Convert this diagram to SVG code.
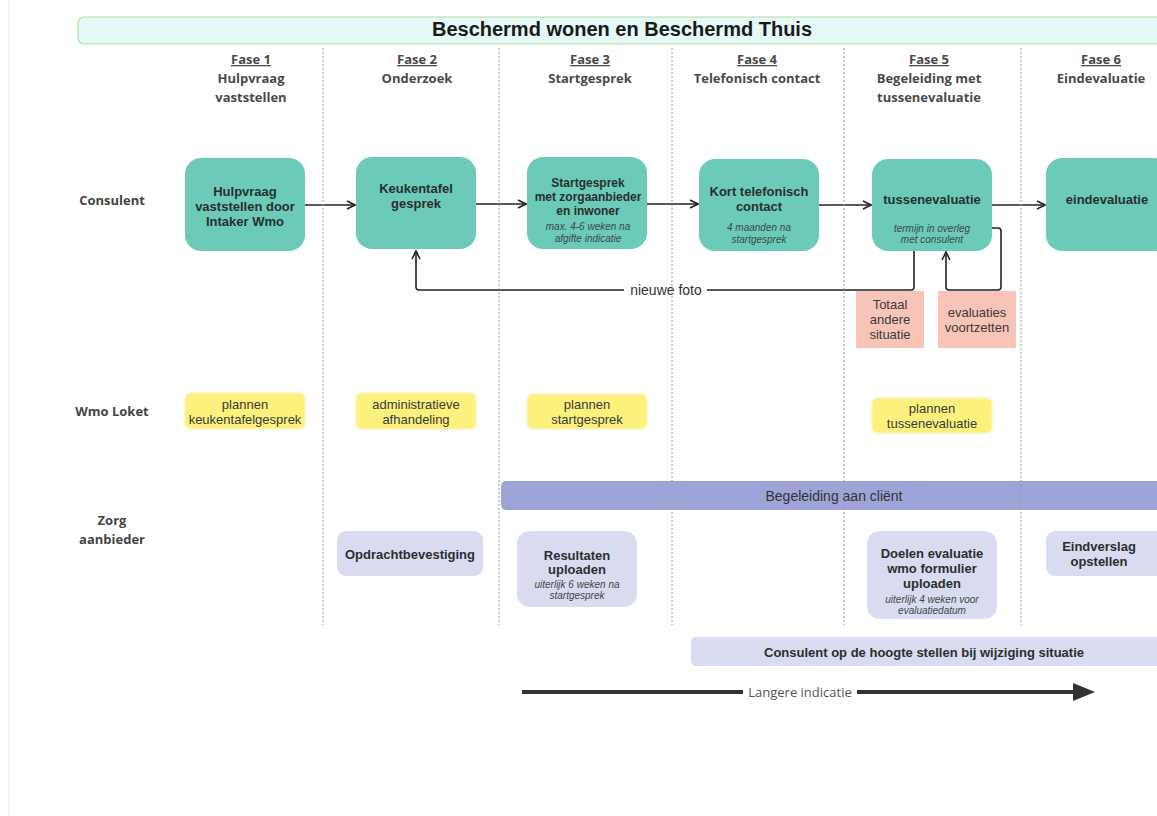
<svg xmlns="http://www.w3.org/2000/svg" width="1157" height="816" viewBox="0 0 1157 816">
<defs>
<style>
.title{font-family:"Liberation Sans",Arial,sans-serif;font-size:20px;font-weight:bold;fill:#1a1a1a;text-anchor:middle}
.fase{font-family:"Open Sans","Liberation Sans",sans-serif;font-size:13px;font-weight:bold;fill:#4a4a4a;text-anchor:middle}
.u{text-decoration:underline}
.lane{font-family:"Open Sans","Liberation Sans",sans-serif;font-size:13px;font-weight:bold;fill:#444;text-anchor:middle}
.teal{fill:#6ccab8}
.yel{fill:#fbf17c;stroke:#fcf5b8;stroke-width:1.5}
.lav{fill:#d9dbf0}
.pink{fill:#f8c4b7}
.band{fill:#9ea4d7}
.b13{font-family:"Liberation Sans",Arial,sans-serif;font-size:13px;font-weight:bold;fill:#2a2f2e;text-anchor:middle}
.b12{font-family:"Liberation Sans",Arial,sans-serif;font-size:12px;font-weight:bold;fill:#2a2f2e;text-anchor:middle}
.it{font-family:"Liberation Sans",Arial,sans-serif;font-size:10px;font-style:italic;fill:#3a4a47;text-anchor:middle}
.r13{font-family:"Liberation Sans",Arial,sans-serif;font-size:13px;fill:#3a3a3a;text-anchor:middle}
.r14{font-family:"Liberation Sans",Arial,sans-serif;font-size:14px;fill:#333;text-anchor:middle}
.os{font-family:"Open Sans","Liberation Sans",sans-serif;font-size:13px;fill:#555;text-anchor:middle}
.grid{stroke:#9a9a9a;stroke-width:1;stroke-dasharray:2 2;fill:none}
.edge{stroke:#222;stroke-width:1.6;fill:none;stroke-linejoin:round}
</style>
<marker id="arr" viewBox="0 0 10 10" refX="9" refY="5" markerWidth="10" markerHeight="10" markerUnits="userSpaceOnUse" orient="auto">
<path d="M1,1 L9,5 L1,9" fill="none" stroke="#222" stroke-width="1.6"/>
</marker>
</defs>
<rect width="1157" height="816" fill="#ffffff"/>
<line x1="8.5" y1="0" x2="8.5" y2="816" stroke="#efefef" stroke-width="1"/>

<g id="title">
<rect x="78" y="17" width="1095" height="27" rx="6" fill="#e4f8f6" stroke="#b3dca4" stroke-width="1.2"/>
<text class="title" x="622" y="36">Beschermd wonen en Beschermd Thuis</text>
</g>

<g id="phases">
<text class="fase u" x="251" y="64">Fase 1</text>
<text class="fase" x="251" y="83">Hulpvraag</text>
<text class="fase" x="251" y="102">vaststellen</text>
<text class="fase u" x="417" y="64">Fase 2</text>
<text class="fase" x="417" y="83">Onderzoek</text>
<text class="fase u" x="590" y="64">Fase 3</text>
<text class="fase" x="590" y="83">Startgesprek</text>
<text class="fase u" x="757" y="64">Fase 4</text>
<text class="fase" x="757" y="83">Telefonisch contact</text>
<text class="fase u" x="929" y="64">Fase 5</text>
<text class="fase" x="929" y="83">Begeleiding met</text>
<text class="fase" x="929" y="102">tussenevaluatie</text>
<text class="fase u" x="1101" y="64">Fase 6</text>
<text class="fase" x="1101" y="83">Eindevaluatie</text>
</g>

<g id="lanes">
<text class="lane" x="112" y="205">Consulent</text>
<text class="lane" x="112" y="416">Wmo Loket</text>
<text class="lane" x="112" y="525">Zorg</text>
<text class="lane" x="112" y="544">aanbieder</text>
</g>

<g id="band-begeleiding">
<rect class="band" x="501" y="481" width="680" height="29" rx="5"/>
<text class="r14" x="834" y="501">Begeleiding aan cliënt</text>
</g>

<g id="n-hulpvraag">
<rect class="teal" x="185" y="158" width="120" height="93" rx="16"/>
<text class="b13" x="245" y="196">Hulpvraag</text>
<text class="b13" x="245" y="211">vaststellen door</text>
<text class="b13" x="245" y="226">Intaker Wmo</text>
</g>
<g id="n-keukentafel">
<rect class="teal" x="356" y="157" width="120" height="92" rx="16"/>
<text class="b13" x="416" y="193">Keukentafel</text>
<text class="b13" x="416" y="208">gesprek</text>
</g>
<g id="n-startgesprek">
<rect class="teal" x="527" y="157" width="120" height="92" rx="16"/>
<text class="b12" x="588" y="187">Startgesprek</text>
<text class="b12" x="588" y="201">met zorgaanbieder</text>
<text class="b12" x="588" y="215">en inwoner</text>
<text class="it" x="588" y="230">max. 4-6 weken na</text>
<text class="it" x="588" y="242">afgifte indicatie</text>
</g>
<g id="n-kort">
<rect class="teal" x="699" y="159" width="120" height="92" rx="16"/>
<text class="b13" x="759" y="196">Kort telefonisch</text>
<text class="b13" x="759" y="211">contact</text>
<text class="it" x="759" y="231">4 maanden na</text>
<text class="it" x="759" y="243">startgesprek</text>
</g>
<g id="n-tussenevaluatie">
<rect class="teal" x="872" y="159" width="120" height="92" rx="16"/>
<text class="b13" x="932" y="204">tussenevaluatie</text>
<text class="it" x="932" y="232">termijn in overleg</text>
<text class="it" x="932" y="243">met consulent</text>
</g>
<g id="n-eindevaluatie">
<rect class="teal" x="1046" y="158" width="124" height="93" rx="16"/>
<text class="b13" x="1107" y="204">eindevaluatie</text>
</g>

<g id="n-totaal">
<rect class="pink" x="856" y="291" width="68" height="57"/>
<text class="r13" x="890" y="309">Totaal</text>
<text class="r13" x="890" y="324">andere</text>
<text class="r13" x="890" y="339">situatie</text>
</g>
<g id="n-voortzetten">
<rect class="pink" x="938" y="291" width="78" height="57"/>
<text class="r13" x="977" y="317">evaluaties</text>
<text class="r13" x="977" y="332">voortzetten</text>
</g>

<g id="w-keukentafel">
<rect class="yel" x="185" y="393" width="120" height="36" rx="6"/>
<text class="r13" x="245" y="409">plannen</text>
<text class="r13" x="245" y="424">keukentafelgesprek</text>
</g>
<g id="w-admin">
<rect class="yel" x="356" y="393" width="120" height="36" rx="6"/>
<text class="r13" x="416" y="409">administratieve</text>
<text class="r13" x="416" y="424">afhandeling</text>
</g>
<g id="w-start">
<rect class="yel" x="527" y="394" width="120" height="35" rx="6"/>
<text class="r13" x="587" y="409">plannen</text>
<text class="r13" x="587" y="424">startgesprek</text>
</g>
<g id="w-tussen">
<rect class="yel" x="872" y="398" width="120" height="35" rx="6"/>
<text class="r13" x="932" y="413">plannen</text>
<text class="r13" x="932" y="428">tussenevaluatie</text>
</g>

<g id="z-opdracht">
<rect class="lav" x="337" y="531" width="146" height="45" rx="9"/>
<text class="b13" x="410" y="559">Opdrachtbevestiging</text>
</g>
<g id="z-resultaten">
<rect class="lav" x="517" y="531" width="120" height="76" rx="13"/>
<text class="b13" x="577" y="560">Resultaten</text>
<text class="b13" x="577" y="574">uploaden</text>
<text class="it" x="577" y="588">uiterlijk 6 weken na</text>
<text class="it" x="577" y="599">startgesprek</text>
</g>
<g id="z-doelen">
<rect class="lav" x="867" y="531" width="130" height="88" rx="13"/>
<text class="b13" x="932" y="558">Doelen evaluatie</text>
<text class="b13" x="932" y="573">wmo formulier</text>
<text class="b13" x="932" y="588">uploaden</text>
<text class="it" x="932" y="603">uiterlijk 4 weken voor</text>
<text class="it" x="932" y="614">evaluatiedatum</text>
</g>
<g id="z-eindverslag">
<rect class="lav" x="1046" y="531" width="130" height="45" rx="9"/>
<text class="b13" x="1099" y="551">Eindverslag</text>
<text class="b13" x="1099" y="566">opstellen</text>
</g>

<g id="z-consulent-hoogte">
<rect class="lav" x="691" y="637" width="490" height="29" rx="5"/>
<text class="b13" x="924" y="657">Consulent op de hoogte stellen bij wijziging situatie</text>
</g>

<g id="connectors">
<line class="edge" x1="305" y1="205" x2="355" y2="205" marker-end="url(#arr)"/>
<line class="edge" x1="476" y1="204" x2="526" y2="204" marker-end="url(#arr)"/>
<line class="edge" x1="647" y1="204" x2="698" y2="204" marker-end="url(#arr)"/>
<line class="edge" x1="819" y1="205" x2="871" y2="205" marker-end="url(#arr)"/>
<line class="edge" x1="992" y1="205" x2="1045" y2="205" marker-end="url(#arr)"/>
<path class="edge" d="M914,251 L914,287 Q914,290 911,290 L707,290"/>
<path class="edge" d="M624,290 L419,290 Q416,290 416,287 L416,251" marker-end="url(#arr)"/>
<text class="r14" x="666" y="295">nieuwe foto</text>
<path class="edge" d="M992,228 L998,228 Q1001,228 1001,231 L1001,287 Q1001,290 998,290 L949,290 Q946,290 946,287 L946,252" marker-end="url(#arr)"/>
</g>

<g id="langere-indicatie">
<line x1="522" y1="692" x2="743" y2="692" stroke="#333" stroke-width="4"/>
<line x1="857" y1="692" x2="1076" y2="692" stroke="#333" stroke-width="4"/>
<polygon points="1073,683 1095,692 1073,701" fill="#333"/>
<text class="os" x="800" y="697">Langere indicatie</text>
</g>

<g id="grid">
<line class="grid" x1="323" y1="48" x2="323" y2="625"/>
<line class="grid" x1="499" y1="48" x2="499" y2="625"/>
<line class="grid" x1="672" y1="48" x2="672" y2="625"/>
<line class="grid" x1="844" y1="48" x2="844" y2="625"/>
<line class="grid" x1="1021" y1="48" x2="1021" y2="625"/>
</g>
</svg>
